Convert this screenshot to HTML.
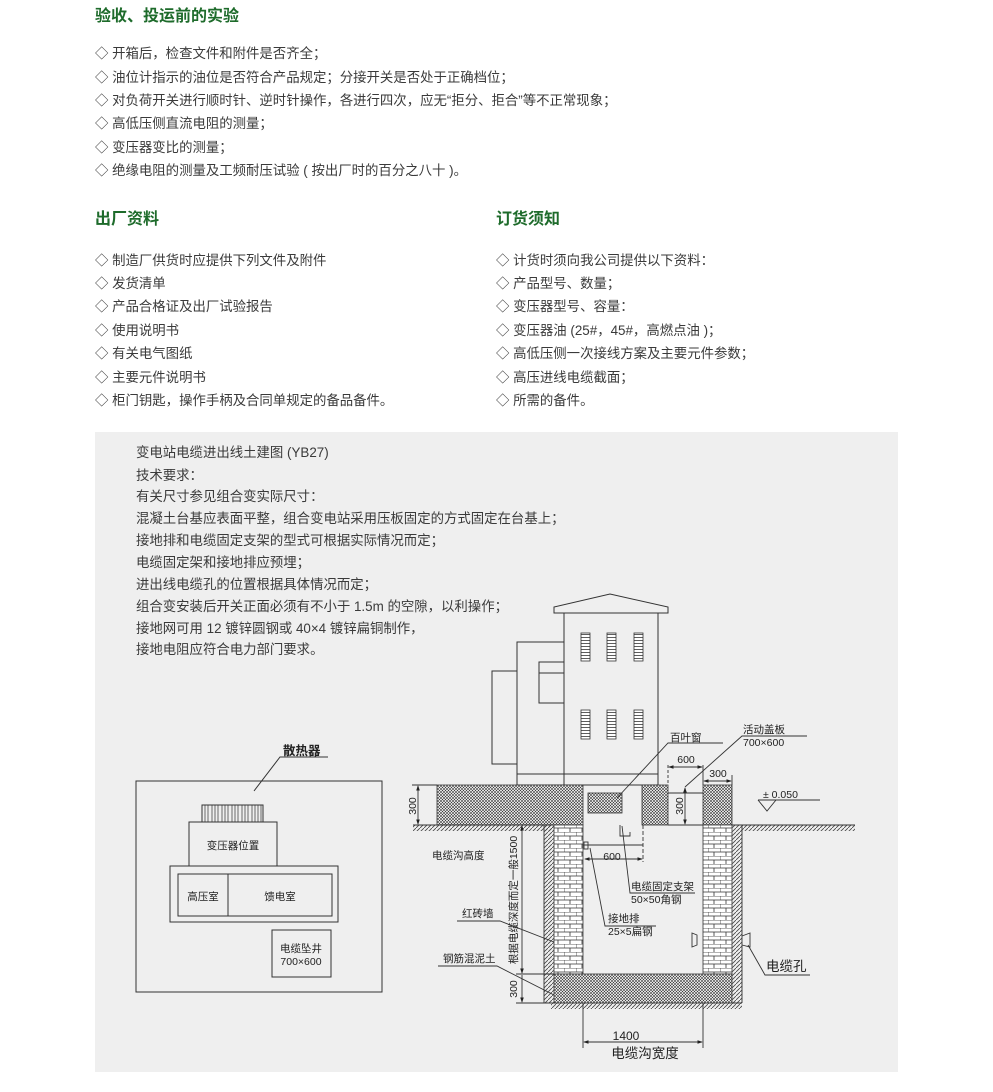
<!DOCTYPE html>
<html><head><meta charset="utf-8"><style>
body{margin:0;width:993px;height:1092px;background:#fff;position:relative;overflow:hidden;font-family:"Liberation Sans","Noto Sans CJK SC",sans-serif;color:#3a3a3a}
.h{position:absolute;font-size:16px;font-weight:bold;color:#1e6b2b;line-height:20px}
.t{position:absolute;font-size:13.4px;line-height:18px;white-space:nowrap}
#g{position:absolute;left:95px;top:432px;width:803px;height:640px;background:#efefef}
svg{position:absolute;left:0;top:0}
svg text{font-family:"Liberation Sans","Noto Sans CJK SC",sans-serif;fill:#222}
</style></head><body>
<div class="h" style="left:95px;top:7px">验收、投运前的实验</div>
<div class="t" style="left:95px;top:45px">◇ 开箱后，检查文件和附件是否齐全；</div>
<div class="t" style="left:95px;top:69px">◇ 油位计指示的油位是否符合产品规定；分接开关是否处于正确档位；</div>
<div class="t" style="left:95px;top:92px">◇ 对负荷开关进行顺时针、逆时针操作，各进行四次，应无“拒分、拒合”等不正常现象；</div>
<div class="t" style="left:95px;top:115px">◇ 高低压侧直流电阻的测量；</div>
<div class="t" style="left:95px;top:139px">◇ 变压器变比的测量；</div>
<div class="t" style="left:95px;top:162px">◇ 绝缘电阻的测量及工频耐压试验 ( 按出厂时的百分之八十 )。</div>
<div class="h" style="left:95px;top:210px">出厂资料</div>
<div class="t" style="left:95px;top:252px">◇ 制造厂供货时应提供下列文件及附件</div>
<div class="t" style="left:95px;top:275px">◇ 发货清单</div>
<div class="t" style="left:95px;top:298px">◇ 产品合格证及出厂试验报告</div>
<div class="t" style="left:95px;top:322px">◇ 使用说明书</div>
<div class="t" style="left:95px;top:345px">◇ 有关电气图纸</div>
<div class="t" style="left:95px;top:369px">◇ 主要元件说明书</div>
<div class="t" style="left:95px;top:392px">◇ 柜门钥匙，操作手柄及合同单规定的备品备件。</div>
<div class="h" style="left:496px;top:210px">订货须知</div>
<div class="t" style="left:496px;top:252px">◇ 计货时须向我公司提供以下资料：</div>
<div class="t" style="left:496px;top:275px">◇ 产品型号、数量；</div>
<div class="t" style="left:496px;top:298px">◇ 变压器型号、容量：</div>
<div class="t" style="left:496px;top:322px">◇ 变压器油 (25#，45#，高燃点油 )；</div>
<div class="t" style="left:496px;top:345px">◇ 高低压侧一次接线方案及主要元件参数；</div>
<div class="t" style="left:496px;top:369px">◇ 高压进线电缆截面；</div>
<div class="t" style="left:496px;top:392px">◇ 所需的备件。</div>
<div id="g"></div>
<div class="t" style="left:136px;top:444px">变电站电缆进出线土建图 (YB27)</div>
<div class="t" style="left:136px;top:467px">技术要求：</div>
<div class="t" style="left:136px;top:488px">有关尺寸参见组合变实际尺寸：</div>
<div class="t" style="left:136px;top:510px">混凝土台基应表面平整，组合变电站采用压板固定的方式固定在台基上；</div>
<div class="t" style="left:136px;top:532px">接地排和电缆固定支架的型式可根据实际情况而定；</div>
<div class="t" style="left:136px;top:554px">电缆固定架和接地排应预埋；</div>
<div class="t" style="left:136px;top:576px">进出线电缆孔的位置根据具体情况而定；</div>
<div class="t" style="left:136px;top:598px">组合变安装后开关正面必须有不小于 1.5m 的空隙，以利操作；</div>
<div class="t" style="left:136px;top:620px">接地网可用 12 镀锌圆钢或 40×4 镀锌扁铜制作，</div>
<div class="t" style="left:136px;top:641px">接地电阻应符合电力部门要求。</div>
<svg width="993" height="1092" viewBox="0 0 993 1092">
<defs>
<pattern id="x" width="3" height="3" patternUnits="userSpaceOnUse"><rect width="3" height="3" fill="#fff"/><path d="M0 0L3 3M3 0L0 3" stroke="#333" stroke-width="0.6"/></pattern>
<pattern id="b" width="12" height="8" patternUnits="userSpaceOnUse"><rect width="12" height="8" fill="#fff"/><path d="M0 0H12M0 4H12M0 0V4M6 4V8" stroke="#333" stroke-width="0.8" fill="none"/></pattern>
<pattern id="d" width="4" height="4" patternUnits="userSpaceOnUse"><path d="M0 4L4 0" stroke="#444" stroke-width="0.8"/></pattern>
<pattern id="l" width="9" height="3" patternUnits="userSpaceOnUse"><rect width="9" height="3" fill="#fff"/><path d="M0 1.5H9" stroke="#333" stroke-width="0.8"/></pattern>
<marker id="a" markerWidth="6" markerHeight="6" refX="5" refY="3" orient="auto-start-reverse"><path d="M0 1L6 3L0 5Z" fill="#222"/></marker>
</defs>
<g stroke="#333" stroke-width="1" fill="none">
<rect x="136" y="781" width="246" height="211"/>
<polyline points="328,757 280,757 254,791"/>
<rect x="202" y="805" width="61" height="17"/>
<path d="M205 805V822M208 805V822M212 805V822M215 805V822M218 805V822M222 805V822M225 805V822M228 805V822M232 805V822M235 805V822M238 805V822M242 805V822M245 805V822M248 805V822M252 805V822M255 805V822M258 805V822M261 805V822" stroke-width="0.7"/>
<rect x="189" y="822" width="88" height="44"/>
<rect x="170" y="866" width="168" height="56"/>
<rect x="178" y="874" width="154" height="42"/>
<line x1="228" y1="874" x2="228" y2="916"/>
<rect x="272" y="930" width="59" height="47"/>
<polygon points="554,613 554,607 610,594 668,607 668,613"/>
<rect x="564" y="613" width="94" height="172"/>
<rect x="517" y="642" width="47" height="143"/>
<line x1="517" y1="774" x2="658" y2="774"/>
<rect x="539" y="662" width="25" height="41"/><line x1="539" y1="673" x2="564" y2="673"/>
<rect x="492" y="671" width="25" height="93"/>
</g>
<g fill="url(#l)" stroke="#333" stroke-width="0.8">
<rect x="581" y="633" width="9" height="28"/><rect x="607" y="633" width="9" height="28"/><rect x="634" y="633" width="9" height="28"/>
<rect x="581" y="710" width="9" height="29"/><rect x="607" y="710" width="9" height="29"/><rect x="634" y="710" width="9" height="29"/>
</g>
<g stroke="#333" stroke-width="0.8">
<rect x="437" y="785" width="146" height="40" fill="url(#x)"/>
<rect x="588" y="793" width="34" height="20" fill="url(#x)"/>
<rect x="642" y="785" width="26" height="40" fill="url(#x)"/>
<rect x="703" y="785" width="29" height="40" fill="url(#x)"/>
<rect x="554" y="825" width="29" height="149" fill="url(#b)"/>
<rect x="703" y="825" width="29" height="149" fill="url(#b)"/>
<rect x="554" y="974" width="178" height="29" fill="url(#x)"/>
<rect x="544" y="825" width="10" height="178" fill="url(#d)" stroke="none"/>
<rect x="732" y="825" width="10" height="178" fill="url(#d)" stroke="none"/>
<rect x="551" y="1003" width="191" height="6" fill="url(#d)" stroke="none"/>
<rect x="413" y="825" width="141" height="6" fill="url(#d)" stroke="none"/>
<rect x="742" y="825" width="113" height="6" fill="url(#d)" stroke="none"/>
</g>
<g stroke="#333" stroke-width="0.9" fill="none">
<line x1="413" y1="825" x2="554" y2="825"/><line x1="732" y1="825" x2="855" y2="825"/>
<line x1="544" y1="825" x2="544" y2="1003"/><line x1="742" y1="825" x2="742" y2="1003"/>
<line x1="551" y1="1003" x2="742" y2="1003"/>
<line x1="418" y1="786" x2="418" y2="824" marker-start="url(#a)" marker-end="url(#a)"/>
<line x1="412" y1="785" x2="437" y2="785"/>
<line x1="522" y1="826" x2="522" y2="973" marker-start="url(#a)" marker-end="url(#a)"/>
<line x1="522" y1="975" x2="522" y2="1002" marker-end="url(#a)"/>
<line x1="516" y1="974" x2="554" y2="974"/><line x1="516" y1="1003" x2="551" y2="1003"/>
<line x1="583" y1="1003" x2="583" y2="1048"/><line x1="703" y1="1003" x2="703" y2="1048"/>
<line x1="584" y1="1042" x2="702" y2="1042" marker-start="url(#a)" marker-end="url(#a)"/>
<line x1="668" y1="765" x2="668" y2="785" stroke-dasharray="3 2"/><line x1="703" y1="765" x2="703" y2="785"/>
<line x1="669" y1="767" x2="702" y2="767" marker-start="url(#a)" marker-end="url(#a)"/>
<line x1="732" y1="775" x2="732" y2="785"/>
<line x1="704" y1="781" x2="731" y2="781" marker-start="url(#a)" marker-end="url(#a)"/>
<line x1="668" y1="793" x2="703" y2="793"/>
<line x1="685" y1="788" x2="685" y2="824" marker-start="url(#a)" marker-end="url(#a)"/>
<line x1="668" y1="825" x2="703" y2="825"/>
<polyline points="617,798 668,743 723,743"/>
<polyline points="685,787 742,736 807,736"/>
<line x1="758" y1="800" x2="820" y2="800"/><polyline points="758,800 767,811 776,800"/>
<polyline points="620,825 620,836 630,836 630,832"/>
<line x1="583" y1="845" x2="643" y2="845"/>
<rect x="584" y="842" width="4" height="7"/>
<line x1="643" y1="825" x2="643" y2="862" stroke-dasharray="4 2"/>
<line x1="585" y1="859" x2="642" y2="859" marker-start="url(#a)" marker-end="url(#a)"/>
<polyline points="622,826 630,893 695,893"/>
<polyline points="590,848 605,926 656,926"/>
<polyline points="457,921 500,921 554,942"/>
<polyline points="438,966 497,966 554,995"/>
<path d="M692 933L697 935V945L692 947Z M742 936L750 933V947L742 945"/>
<polyline points="748,945 765,975 810,975"/>
</g>
<g font-size="11">
<text x="283" y="755" font-size="12.5" font-weight="bold">散热器</text>
<text x="233" y="849" text-anchor="middle" font-size="10.5">变压器位置</text>
<text x="203" y="900" text-anchor="middle" font-size="10.5">高压室</text>
<text x="280" y="900" text-anchor="middle" font-size="10.5">馈电室</text>
<text x="301" y="952" text-anchor="middle" font-size="10.5">电缆坠井</text>
<text x="301" y="965" text-anchor="middle" font-size="10.5">700×600</text>
<text x="670" y="741" font-size="10.5">百叶窗</text>
<text x="743" y="733" font-size="10.5">活动盖板</text>
<text x="743" y="746" font-size="10.5">700×600</text>
<text x="686" y="763" text-anchor="middle" font-size="10.5">600</text>
<text x="718" y="777" text-anchor="middle" font-size="10.5">300</text>
<text x="763" y="798" font-size="10.5">± 0.050</text>
<text transform="translate(416,806) rotate(-90)" text-anchor="middle" font-size="10.5">300</text>
<text transform="translate(683,806) rotate(-90)" text-anchor="middle" font-size="10.5">300</text>
<text x="432" y="859" font-size="10.5">电缆沟高度</text>
<text x="612" y="860" text-anchor="middle" font-size="10.5">600</text>
<text x="631" y="890" font-size="10.5">电缆固定支架</text>
<text x="631" y="903" font-size="10.5">50×50角钢</text>
<text x="608" y="922" font-size="10.5">接地排</text>
<text x="608" y="935" font-size="10.5">25×5扁钢</text>
<text x="462" y="917" font-size="10.5">红砖墙</text>
<text x="443" y="962" font-size="10.5">钢筋混泥土</text>
<text transform="translate(517,900) rotate(-90)" text-anchor="middle" font-size="10.5">根据电缆深度而定一般1500</text>
<text transform="translate(517,989) rotate(-90)" text-anchor="middle" font-size="10.5">300</text>
<text x="626" y="1040" text-anchor="middle" font-size="12">1400</text>
<text x="645" y="1058" text-anchor="middle" font-size="13.5">电缆沟宽度</text>
<text x="766" y="971" font-size="13.5">电缆孔</text>
</g>
</svg>
</body></html>
